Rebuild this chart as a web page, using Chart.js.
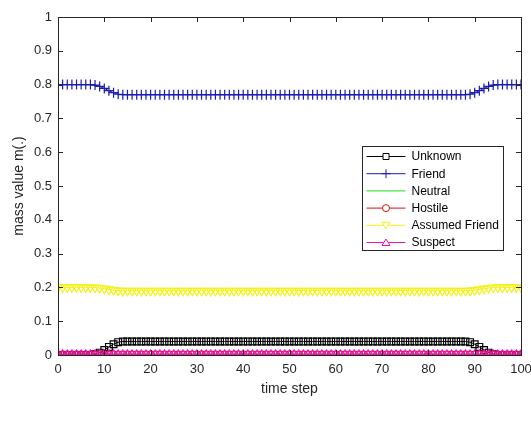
<!DOCTYPE html>
<html>
<head>
<meta charset="utf-8">
<script src="https://cdn.jsdelivr.net/npm/chart.js@4"></script>
<style>
  html, body { margin: 0; padding: 0; background: #fff; }
  #wrap { width: 531px; height: 428px; }
</style>
</head>
<body>
<div id="wrap"><canvas id="chart" width="531" height="428"></canvas></div>
<script>
// time steps 0..100
const steps = [
  0, 1, 2, 3, 4, 5, 6, 7, 8, 9, 10, 11, 12, 13, 14, 15, 16, 17, 18, 19, 20,
  21, 22, 23, 24, 25, 26, 27, 28, 29, 30, 31, 32, 33, 34, 35, 36, 37, 38, 39, 40,
  41, 42, 43, 44, 45, 46, 47, 48, 49, 50, 51, 52, 53, 54, 55, 56, 57, 58, 59, 60,
  61, 62, 63, 64, 65, 66, 67, 68, 69, 70, 71, 72, 73, 74, 75, 76, 77, 78, 79, 80,
  81, 82, 83, 84, 85, 86, 87, 88, 89, 90, 91, 92, 93, 94, 95, 96, 97, 98, 99, 100
];

const seriesNames = ['Unknown', 'Friend', 'Neutral', 'Hostile', 'Assumed Friend', 'Suspect'];

const unknown = [
  0, 0, 0, 0, 0, 0, 0, 0, 0.002, 0.007, 0.015, 0.024, 0.032, 0.038, 0.04, 0.04, 0.04, 0.04, 0.04, 0.04, 0.04,
  0.04, 0.04, 0.04, 0.04, 0.04, 0.04, 0.04, 0.04, 0.04, 0.04, 0.04, 0.04, 0.04, 0.04, 0.04, 0.04, 0.04, 0.04, 0.04, 0.04,
  0.04, 0.04, 0.04, 0.04, 0.04, 0.04, 0.04, 0.04, 0.04, 0.04, 0.04, 0.04, 0.04, 0.04, 0.04, 0.04, 0.04, 0.04, 0.04, 0.04,
  0.04, 0.04, 0.04, 0.04, 0.04, 0.04, 0.04, 0.04, 0.04, 0.04, 0.04, 0.04, 0.04, 0.04, 0.04, 0.04, 0.04, 0.04, 0.04, 0.04,
  0.04, 0.04, 0.04, 0.04, 0.04, 0.04, 0.04, 0.04, 0.038, 0.032, 0.024, 0.015, 0.007, 0.002, 0, 0, 0, 0, 0, 0, 0
];

const friend = [
  0.8, 0.8, 0.8, 0.8, 0.8, 0.8, 0.8, 0.8, 0.7985, 0.7946, 0.7886, 0.782, 0.776, 0.7715, 0.77, 0.77, 0.77, 0.77, 0.77, 0.77, 0.77,
  0.77, 0.77, 0.77, 0.77, 0.77, 0.77, 0.77, 0.77, 0.77, 0.77, 0.77, 0.77, 0.77, 0.77, 0.77, 0.77, 0.77, 0.77, 0.77, 0.77,
  0.77, 0.77, 0.77, 0.77, 0.77, 0.77, 0.77, 0.77, 0.77, 0.77, 0.77, 0.77, 0.77, 0.77, 0.77, 0.77, 0.77, 0.77, 0.77, 0.77,
  0.77, 0.77, 0.77, 0.77, 0.77, 0.77, 0.77, 0.77, 0.77, 0.77, 0.77, 0.77, 0.77, 0.77, 0.77, 0.77, 0.77, 0.77, 0.77, 0.77,
  0.77, 0.77, 0.77, 0.77, 0.77, 0.77, 0.77, 0.77, 0.7715, 0.776, 0.782, 0.7886, 0.7946, 0.7985, 0.8, 0.8, 0.8, 0.8, 0.8, 0.8, 0.8
];

const neutral = [
  0, 0, 0, 0, 0, 0, 0, 0, 0, 0, 0, 0, 0, 0, 0, 0, 0, 0, 0, 0, 0,
  0, 0, 0, 0, 0, 0, 0, 0, 0, 0, 0, 0, 0, 0, 0, 0, 0, 0, 0, 0,
  0, 0, 0, 0, 0, 0, 0, 0, 0, 0, 0, 0, 0, 0, 0, 0, 0, 0, 0, 0,
  0, 0, 0, 0, 0, 0, 0, 0, 0, 0, 0, 0, 0, 0, 0, 0, 0, 0, 0, 0,
  0, 0, 0, 0, 0, 0, 0, 0, 0, 0, 0, 0, 0, 0, 0, 0, 0, 0, 0, 0
];

const hostile = [
  0, 0, 0, 0, 0, 0, 0, 0, 0, 0, 0, 0, 0, 0, 0, 0, 0, 0, 0, 0, 0,
  0, 0, 0, 0, 0, 0, 0, 0, 0, 0, 0, 0, 0, 0, 0, 0, 0, 0, 0, 0,
  0, 0, 0, 0, 0, 0, 0, 0, 0, 0, 0, 0, 0, 0, 0, 0, 0, 0, 0, 0,
  0, 0, 0, 0, 0, 0, 0, 0, 0, 0, 0, 0, 0, 0, 0, 0, 0, 0, 0, 0,
  0, 0, 0, 0, 0, 0, 0, 0, 0, 0, 0, 0, 0, 0, 0, 0, 0, 0, 0, 0
];

const assumedFriend = [
  0.2, 0.2, 0.2, 0.2, 0.2, 0.2, 0.2, 0.2, 0.1995, 0.1982, 0.1962, 0.194, 0.192, 0.1905, 0.19, 0.19, 0.19, 0.19, 0.19, 0.19, 0.19,
  0.19, 0.19, 0.19, 0.19, 0.19, 0.19, 0.19, 0.19, 0.19, 0.19, 0.19, 0.19, 0.19, 0.19, 0.19, 0.19, 0.19, 0.19, 0.19, 0.19,
  0.19, 0.19, 0.19, 0.19, 0.19, 0.19, 0.19, 0.19, 0.19, 0.19, 0.19, 0.19, 0.19, 0.19, 0.19, 0.19, 0.19, 0.19, 0.19, 0.19,
  0.19, 0.19, 0.19, 0.19, 0.19, 0.19, 0.19, 0.19, 0.19, 0.19, 0.19, 0.19, 0.19, 0.19, 0.19, 0.19, 0.19, 0.19, 0.19, 0.19,
  0.19, 0.19, 0.19, 0.19, 0.19, 0.19, 0.19, 0.19, 0.1905, 0.192, 0.194, 0.1962, 0.1982, 0.1995, 0.2, 0.2, 0.2, 0.2, 0.2, 0.2, 0.2
];

const suspect = [
  0, 0, 0, 0, 0, 0, 0, 0, 0, 0, 0, 0, 0, 0, 0, 0, 0, 0, 0, 0, 0,
  0, 0, 0, 0, 0, 0, 0, 0, 0, 0, 0, 0, 0, 0, 0, 0, 0, 0, 0, 0,
  0, 0, 0, 0, 0, 0, 0, 0, 0, 0, 0, 0, 0, 0, 0, 0, 0, 0, 0, 0,
  0, 0, 0, 0, 0, 0, 0, 0, 0, 0, 0, 0, 0, 0, 0, 0, 0, 0, 0, 0,
  0, 0, 0, 0, 0, 0, 0, 0, 0, 0, 0, 0, 0, 0, 0, 0, 0, 0, 0, 0
];

const xTickValues = [0, 10, 20, 30, 40, 50, 60, 70, 80, 90, 100];
const yTickValues = [0, 0.1, 0.2, 0.3, 0.4, 0.5, 0.6, 0.7, 0.8, 0.9, 1];

const axisColor = '#262626';
const fontFamily = '"Liberation Sans", Arial, sans-serif';

// style of each series (marker kind is used for our own legend)
const styles = [
  { color: '#000000', marker: 'square', pointStyle: 'rect', radius: 4.8, rotation: 0 },
  { color: '#1c1cb0', marker: 'plus', pointStyle: 'cross', radius: 5, rotation: 0 },
  { color: '#22dd22', marker: 'none', pointStyle: false, radius: 0, rotation: 0 },
  { color: '#e01010', marker: 'circle', pointStyle: 'circle', radius: 4, rotation: 0 },
  { color: '#f2f21c', marker: 'down', pointStyle: 'triangle', radius: 5, rotation: 180 },
  { color: '#ee11cc', marker: 'up', pointStyle: 'triangle', radius: 5, rotation: 0 }
];
const values = [unknown, friend, neutral, hostile, assumedFriend, suspect];

const datasets = seriesNames.map((name, i) => ({
  label: name,
  data: values[i],
  borderColor: styles[i].color,
  backgroundColor: 'rgba(0,0,0,0)',
  borderWidth: 1,
  pointStyle: styles[i].pointStyle,
  pointRadius: styles[i].radius,
  pointRotation: styles[i].rotation,
  pointBorderColor: styles[i].color,
  pointBackgroundColor: 'rgba(0,0,0,0)',
  pointBorderWidth: 1.2,
  tension: 0,
  order: seriesNames.length - i   // later series drawn on top, like matlab
}));

function drawMarker(ctx, kind, x, y) {
  ctx.beginPath();
  if (kind === 'square') {
    ctx.rect(x - 3, y - 3, 6, 6);
  } else if (kind === 'plus') {
    ctx.moveTo(x - 4.5, y); ctx.lineTo(x + 4.5, y);
    ctx.moveTo(x, y - 4.5); ctx.lineTo(x, y + 4.5);
  } else if (kind === 'circle') {
    ctx.arc(x, y, 3.5, 0, Math.PI * 2);
  } else if (kind === 'down') {
    ctx.moveTo(x - 4, y - 3); ctx.lineTo(x + 4, y - 3); ctx.lineTo(x, y + 3.5); ctx.closePath();
  } else if (kind === 'up') {
    ctx.moveTo(x - 4, y + 3); ctx.lineTo(x + 4, y + 3); ctx.lineTo(x, y - 3.5); ctx.closePath();
  } else {
    return;
  }
  ctx.fillStyle = '#fff';
  if (kind !== 'plus') ctx.fill();
  ctx.stroke();
}

// matlab-ish box with inward ticks, and the legend box
const boxPlugin = {
  id: 'boxPlugin',
  afterDatasetsDraw(chart) {
    const { ctx, chartArea: a, scales } = chart;
    ctx.save();
    ctx.strokeStyle = axisColor;
    ctx.lineWidth = 1;
    ctx.strokeRect(Math.round(a.left) + 0.5, Math.round(a.top) + 0.5,
      Math.round(a.right - a.left), Math.round(a.bottom - a.top));
    ctx.beginPath();
    xTickValues.forEach(v => {
      const x = Math.round(scales.x.getPixelForValue(v)) + 0.5;
      ctx.moveTo(x, a.bottom); ctx.lineTo(x, a.bottom - 5);
      ctx.moveTo(x, a.top); ctx.lineTo(x, a.top + 5);
    });
    yTickValues.forEach(v => {
      const y = Math.round(scales.y.getPixelForValue(v)) + 0.5;
      ctx.moveTo(a.left, y); ctx.lineTo(a.left + 5, y);
      ctx.moveTo(a.right, y); ctx.lineTo(a.right - 5, y);
    });
    ctx.stroke();

    // legend
    const lw = 141, lh = 104;
    const lx = Math.round(a.right - 18 - lw) + 0.5;
    const ly = Math.round(a.top + 129) + 0.5;
    ctx.fillStyle = '#fff';
    ctx.fillRect(lx, ly, lw, lh);
    ctx.strokeStyle = axisColor;
    ctx.strokeRect(lx, ly, lw, lh);
    ctx.font = '12px ' + fontFamily;
    ctx.textBaseline = 'middle';
    seriesNames.forEach((name, i) => {
      const y = ly + 10 + i * 17.2;
      ctx.strokeStyle = styles[i].color;
      ctx.lineWidth = 1;
      ctx.beginPath();
      ctx.moveTo(lx + 4, y); ctx.lineTo(lx + 43, y);
      ctx.stroke();
      drawMarker(ctx, styles[i].marker, lx + 23.5, y);
      ctx.fillStyle = '#000';
      ctx.fillText(name, lx + 49, y + 0.5);
    });
    ctx.restore();
  }
};

new Chart(document.getElementById('chart'), {
  type: 'line',
  data: { labels: steps, datasets: datasets },
  plugins: [boxPlugin],
  options: {
    responsive: false,
    animation: false,
    layout: { padding: { top: 17, right: 10, left: 0, bottom: 0 } },
    plugins: {
      legend: { display: false },
      tooltip: { enabled: false }
    },
    scales: {
      x: {
        type: 'linear',
        min: 0,
        max: 100,
        afterFit(scale) {
          scale.height = 73;
          scale.paddingRight = 0;
          scale.paddingLeft = 0;
        },
        afterBuildTicks(scale) { scale.ticks = xTickValues.map(v => ({ value: v })); },
        grid: { display: false, drawTicks: false },
        border: { display: false },
        ticks: {
          color: axisColor,
          padding: 7,
          maxRotation: 0,
          autoSkip: false,
          font: { family: fontFamily, size: 13 }
        },
        title: {
          display: true,
          text: 'time step',
          color: axisColor,
          font: { family: fontFamily, size: 14 },
          padding: { top: 0, bottom: 30 }
        }
      },
      y: {
        min: 0,
        max: 1,
        afterFit(scale) { scale.width = 58; },
        afterBuildTicks(scale) { scale.ticks = yTickValues.map(v => ({ value: v })); },
        grid: { display: false, drawTicks: false },
        border: { display: false },
        ticks: {
          color: axisColor,
          padding: 6,
          autoSkip: false,
          font: { family: fontFamily, size: 13 },
          callback: v => String(Math.round(v * 10) / 10)
        },
        title: {
          display: true,
          text: 'mass value m(.)',
          color: axisColor,
          font: { family: fontFamily, size: 14 },
          padding: { top: 11, bottom: 0 }
        }
      }
    }
  }
});
</script>
</body>
</html>
